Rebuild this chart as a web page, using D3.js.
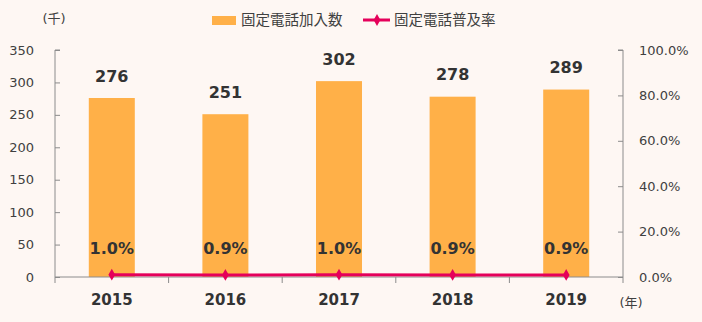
<!DOCTYPE html>
<html><head><meta charset="utf-8">
<script src="https://cdn.jsdelivr.net/npm/d3@7"></script>
<style>
html,body{margin:0;padding:0;background:#FEF7F3;}
svg{display:block;font-family:"DejaVu Sans","Noto Sans CJK JP",sans-serif;}
</style></head>
<body>
<svg id="c" width="702" height="322"></svg>
<script>
const years = ["2015","2016","2017","2018","2019"];
const subscribers = [276, 251, 302, 278, 289];
const penetration = [1.0, 0.9, 1.0, 0.9, 0.9];
const leftTicks = [0,50,100,150,200,250,300,350];
const rightTicks = [0,20,40,60,80,100];

const svg = d3.select("#c");
const W=702,H=322;
svg.append("rect").attr("width",W).attr("height",H).attr("fill","#FEF7F3");
const x0=55,x1=623,yTop=50,yBot=277;
const x = d3.scaleBand().domain(years).range([x0,x1]).paddingInner(0.595).paddingOuter(0.2975);
const xb = d3.scaleBand().domain(years).range([x0,x1]);
const yL = d3.scaleLinear().domain([0,350]).range([yBot,yTop]);
const yR = d3.scaleLinear().domain([0,100]).range([yBot,yTop]);
const txt="#404040", axc="#8c8c8c";

// bars
svg.selectAll("rect.bar").data(subscribers).enter().append("rect")
  .attr("x",(d,i)=>x(years[i])).attr("width",x.bandwidth())
  .attr("y",d=>yL(d)).attr("height",d=>yBot-yL(d)).attr("fill","#FFB048");

// left axis
const gl = svg.append("g").attr("transform",`translate(${x0},0)`)
  .call(d3.axisRight(yL).tickValues(leftTicks).tickSize(5).tickFormat(()=>""));
gl.selectAll("path,line").attr("stroke",axc);
gl.select(".domain").attr("d",`M5,${yTop}H0V${yBot}`);
svg.append("g").selectAll("text").data(leftTicks).enter().append("text")
  .attr("x",34).attr("y",d=>yL(d)).attr("dy","0.35em").attr("text-anchor","end")
  .attr("font-size",13).attr("fill",txt).text(d=>d);

// right axis
const gr = svg.append("g").attr("transform",`translate(${x1},0)`)
  .call(d3.axisLeft(yR).tickValues(rightTicks).tickSize(5).tickFormat(()=>""));
gr.selectAll("path,line").attr("stroke",axc);
gr.select(".domain").attr("d",`M-5,${yTop}H0V${yBot}`);
svg.append("g").selectAll("text").data(rightTicks).enter().append("text")
  .attr("x",639).attr("y",d=>yR(d)).attr("dy","0.35em").attr("text-anchor","start")
  .attr("font-size",13).attr("fill",txt).text(d=>d.toFixed(1)+"%");

// bottom axis
const gb = svg.append("g").attr("transform",`translate(0,${yBot})`)
  .call(d3.axisBottom(xb).tickSize(0).tickFormat(()=>""));
gb.select(".domain").attr("stroke",axc).attr("d",`M${x0},0H${x1}`);
gb.selectAll(".tick").remove();
gb.selectAll("line.b").data(d3.range(years.length+1)).enter().append("line")
  .attr("x1",i=>x0+i*xb.step()).attr("x2",i=>x0+i*xb.step()).attr("y1",0).attr("y2",6).attr("stroke",axc);
svg.append("g").selectAll("text").data(years).enter().append("text")
  .attr("x",d=>xb(d)+xb.bandwidth()/2).attr("y",300).attr("dy","0.35em").attr("text-anchor","middle")
  .attr("font-size",15).attr("font-weight","bold").attr("fill","#333").text(d=>d);

// line
const line = d3.line().x((d,i)=>xb(years[i])+xb.bandwidth()/2).y(d=>yR(d));
svg.append("path").datum(penetration).attr("d",line).attr("fill","none").attr("stroke","#E5005A").attr("stroke-width",3);
svg.selectAll("path.mk").data(penetration).enter().append("path")
  .attr("d",d3.symbol(d3.symbolDiamond,40)())
  .attr("transform",(d,i)=>`translate(${xb(years[i])+xb.bandwidth()/2},${yR(d)})`).attr("fill","#E5005A");

// value labels
svg.append("g").selectAll("text").data(subscribers).enter().append("text")
  .attr("x",(d,i)=>xb(years[i])+xb.bandwidth()/2).attr("y",d=>yL(d)-22).attr("dy","0.35em")
  .attr("text-anchor","middle").attr("font-size",16).attr("font-weight","bold").attr("fill","#333").text(d=>d);
svg.append("g").selectAll("text").data(penetration).enter().append("text")
  .attr("x",(d,i)=>xb(years[i])+xb.bandwidth()/2).attr("y",248).attr("dy","0.35em")
  .attr("text-anchor","middle").attr("font-size",16).attr("font-weight","bold").attr("fill","#333").text(d=>d.toFixed(1)+"%");

// units
svg.append("text").attr("x",54).attr("y",18).attr("dy","0.35em").attr("text-anchor","middle")
  .attr("font-size",13).attr("fill",txt).text("(千)");
svg.append("text").attr("x",631).attr("y",302).attr("dy","0.35em").attr("text-anchor","middle")
  .attr("font-size",13).attr("fill",txt).text("(年)");

// legend
svg.append("rect").attr("x",212).attr("y",16).attr("width",24).attr("height",9).attr("fill","#FFB048");
svg.append("text").attr("x",241).attr("y",20).attr("dy","0.35em").attr("font-size",14.5).attr("fill",txt).text("固定電話加入数");
svg.append("line").attr("x1",363).attr("x2",390).attr("y1",20).attr("y2",20).attr("stroke","#E5005A").attr("stroke-width",3);
svg.append("path").attr("d",d3.symbol(d3.symbolDiamond,40)()).attr("transform","translate(377,20)").attr("fill","#E5005A");
svg.append("text").attr("x",394).attr("y",20).attr("dy","0.35em").attr("font-size",14.5).attr("fill",txt).text("固定電話普及率");
</script>
</body></html>
